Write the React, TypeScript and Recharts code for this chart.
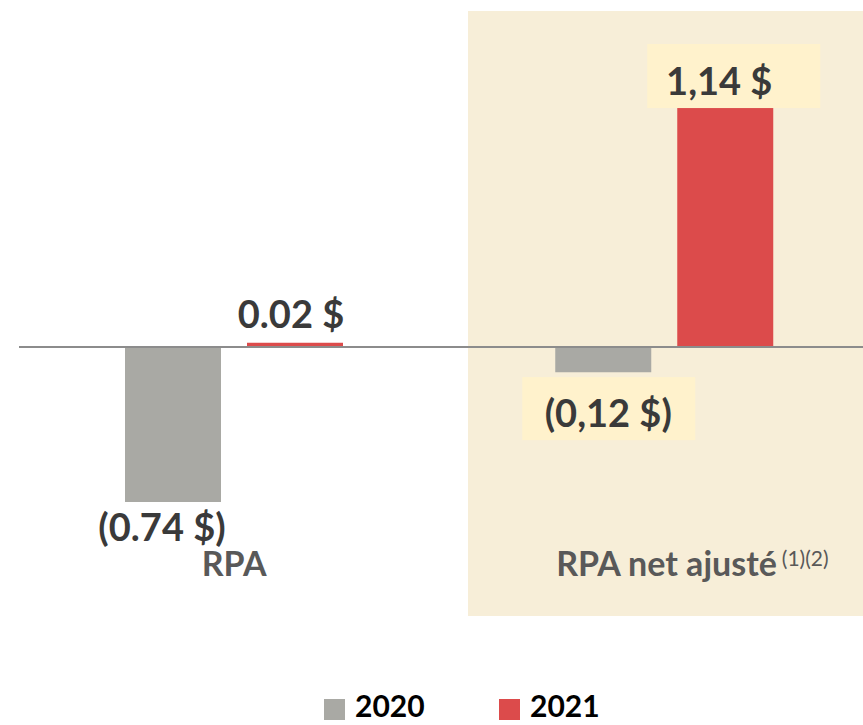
import React from "react";
import { BarChart, Bar, XAxis, YAxis, ReferenceLine, LabelList } from "recharts";

const categories = ["RPA", "RPA net ajusté"];
const categoryNotes = ["", "(1)(2)"];
const values2020 = [-0.74, -0.12];
const values2021 = [0.02, 1.14];
const labels2020 = ["(0.74 $)", "(0,12 $)"];
const labels2021 = ["0.02 $", "1,14 $"];
const seriesNames = ["2020", "2021"];
const seriesColors = ["#A9A9A4", "#DC4B4B"];

const data = categories.map((c, i) => ({
  category: c,
  y2020: values2020[i],
  y2021: values2021[i],
}));

const FONT = "Lato, 'Open Sans', sans-serif";
const BOX = "#FFF2CC";
const TEXT = "#3A3A3A";

const getBox = (props: any) => {
  const vb = props.viewBox || props;
  const x = Number(vb.x);
  const y = Number(vb.y);
  const w = Number(vb.width);
  const h = Number(vb.height);
  return {
    cx: x + w / 2,
    top: Math.min(y, y + h),
    bottom: Math.max(y, y + h),
  };
};

const Label2020 = (props: any) => {
  const { index } = props;
  const { cx, bottom } = getBox(props);
  const text = labels2020[index];
  if (index === 1) {
    return (
      <g>
        <rect x={cx - 81} y={bottom + 5} width={173} height={63} fill={BOX} />
        <text x={cx + 5} y={bottom + 55} textAnchor="middle" fill={TEXT} fontFamily={FONT} fontWeight="bold" fontSize={38}>
          {text}
        </text>
      </g>
    );
  }
  return (
    <text x={cx - 11} y={bottom + 39} textAnchor="middle" fill={TEXT} fontFamily={FONT} fontWeight="bold" fontSize={38}>
      {text}
    </text>
  );
};

const Label2021 = (props: any) => {
  const { index } = props;
  const { cx, top } = getBox(props);
  const text = labels2021[index];
  if (index === 1) {
    return (
      <g>
        <rect x={cx - 78} y={top - 64} width={173} height={64} fill={BOX} />
        <text x={cx - 6} y={top - 13} textAnchor="middle" fill={TEXT} fontFamily={FONT} fontWeight="bold" fontSize={38}>
          {text}
        </text>
      </g>
    );
  }
  return (
    <text x={cx - 4} y={top - 15} textAnchor="middle" fill={TEXT} fontFamily={FONT} fontWeight="bold" fontSize={38}>
      {text}
    </text>
  );
};

const CatTick = (props: any) => {
  const { x, y, payload } = props;
  const i = payload.index ?? props.index ?? 0;
  const note = categoryNotes[i];
  return (
    <text
      x={x + (note ? 28 : 0)}
      y={y + 19.4}
      textAnchor="middle"
      fill="#595959"
      fontFamily={FONT}
      fontWeight="bold"
      fontSize={34}
    >
      {payload.value}
      {note ? (
        <tspan fontSize={21} fontWeight="normal" dy={-10} dx={5}>
          {note}
        </tspan>
      ) : null}
    </text>
  );
};

export default function App() {
  return (
    <div style={{ position: "absolute", left: 0, top: 0, width: 863, height: 725, overflow: "hidden", background: "#fff" }}>
      <svg width={863} height={725} style={{ position: "absolute", left: 0, top: 0 }}>
        <rect x={468} y={11} width={395} height={605} fill="#F7EED8" />
        {seriesNames.map((name, i) => {
          const lx = i === 0 ? 324 : 499;
          return (
            <g key={name}>
              <rect x={lx} y={699} width={21} height={21} fill={seriesColors[i]} />
              <text x={lx + 31} y={717} fill="#000" fontFamily={FONT} fontWeight="bold" fontSize={30}>
                {name}
              </text>
            </g>
          );
        })}
      </svg>
      <div style={{ position: "absolute", left: 0, top: 0 }}>
        <BarChart
          width={880}
          height={725}
          data={data}
          margin={{ top: 32.6, right: 0.5, left: 19, bottom: 108.4 }}
          barGap={26}
          barSize={96}
        >
          <XAxis
            dataKey="category"
            height={60}
            axisLine={false}
            tickLine={false}
            tickSize={0}
            tickMargin={0}
            interval={0}
            tick={<CatTick />}
          />
          <YAxis hide domain={[-1, 1.5]} allowDataOverflow />
          <Bar dataKey="y2020" name={seriesNames[0]} fill={seriesColors[0]} isAnimationActive={false}>
            <LabelList dataKey="y2020" content={<Label2020 />} />
          </Bar>
          <Bar dataKey="y2021" name={seriesNames[1]} fill={seriesColors[1]} isAnimationActive={false}>
            <LabelList dataKey="y2021" content={<Label2021 />} />
          </Bar>
          <ReferenceLine y={0} stroke="#8C8C8C" strokeWidth={2} />
        </BarChart>
      </div>
    </div>
  );
}
